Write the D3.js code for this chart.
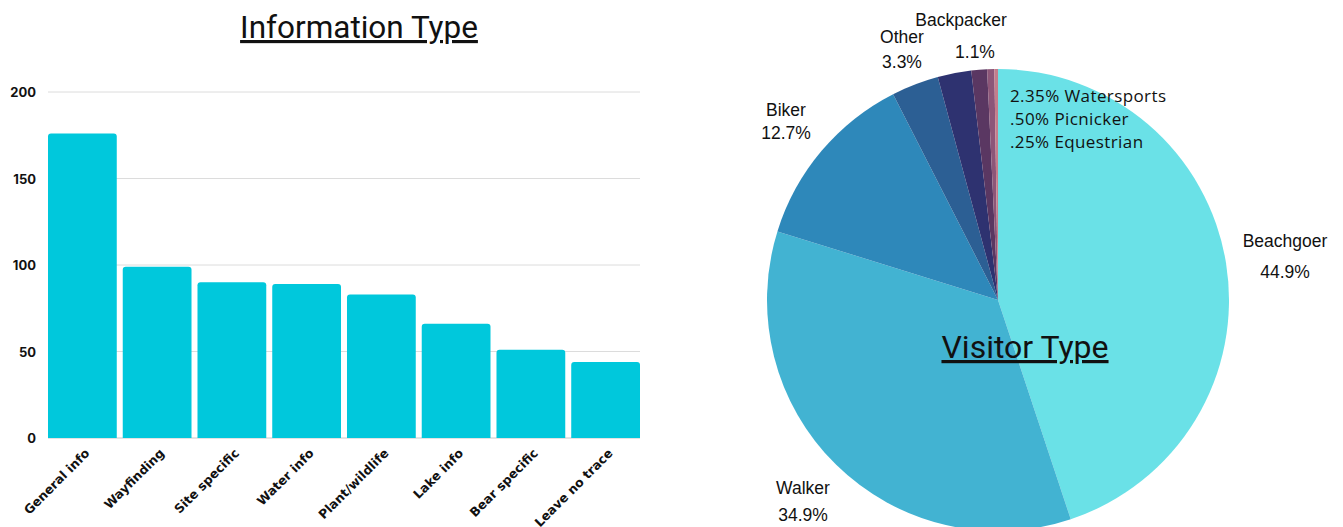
<!DOCTYPE html>
<html>
<head>
<meta charset="utf-8">
<script src="https://cdn.jsdelivr.net/npm/d3@7"></script>
<style>
  body { margin: 0; background: #fff; }
  svg { display: block; }
</style>
</head>
<body>
<div id="chart-area"></div>
<script>
// Bar data
const infoTypes = ['General info', 'Wayfinding', 'Site specific', 'Water info', 'Plant/wildlife', 'Lake info', 'Bear specific', 'Leave no trace']
const infoCounts = [176, 99, 90, 89, 83, 66, 51, 44]
const yTicks = [0, 50, 100, 150, 200]

// Pie data (clockwise from top)
const visitorTypes = ['Beachgoer', 'Walker', 'Biker', 'Other', 'Watersports', 'Backpacker', 'Picnicker', 'Equestrian']
const visitorShares = [44.9, 34.9, 12.7, 3.3, 2.35, 1.1, 0.5, 0.25]
const visitorColors = ['#6ae1e7', '#42b3d2', '#2e88ba', '#2c5f94', '#2e3270', '#5a3762', '#8c5678', '#c47d8c']

const canvas = { width: 1343, height: 527 }

const svg = d3.select('#chart-area')
	.append('svg')
		.attr('width', canvas.width)
		.attr('height', canvas.height)

// ---------- Bar chart ----------
const bar = { left: 48, right: 640, top: 92, bottom: 438 }

let x = d3.scaleBand()
	.domain(infoTypes)
	.range([bar.left, bar.right])
	.paddingInner(0.08)
	.paddingOuter(0)
let y = d3.scaleLinear()
	.domain([0, 200])
	.range([bar.bottom, bar.top])

svg.append('text')
	.attr('x', 359)
	.attr('y', 38)
	.attr('text-anchor', 'middle')
	.attr('font-family', 'Roboto, "Liberation Sans", Arial, sans-serif')
	.attr('font-size', 31.5)
	.attr('fill', '#111')
	.style('text-decoration', 'underline')
	.text('Information Type')

// gridlines
svg.append('g')
	.selectAll('line')
	.data(yTicks)
	.enter().append('line')
		.attr('x1', bar.left)
		.attr('x2', bar.right)
		.attr('y1', d => y(d))
		.attr('y2', d => y(d))
		.attr('stroke', d => d === 0 ? '#c8c8c8' : '#dcdcdc')
		.attr('stroke-width', 1)

// y tick labels
svg.append('g')
	.selectAll('text')
	.data(yTicks)
	.enter().append('text')
		.attr('x', 36)
		.attr('y', d => y(d) + 5)
		.attr('text-anchor', 'end')
		.attr('font-family', 'Inter, "Open Sans", sans-serif')
		.attr('font-weight', 700)
		.attr('font-size', 13)
		.attr('fill', '#111')
		.text(d => d)

// bars with rounded tops
const r = 3
svg.append('g')
	.selectAll('path')
	.data(infoCounts)
	.enter().append('path')
		.attr('fill', '#00c8dc')
		.attr('d', (d, i) => {
			const x0 = x(infoTypes[i]), x1 = x0 + x.bandwidth()
			const y0 = y(d), y1 = y(0)
			return `M${x0},${y1}V${y0 + r}Q${x0},${y0} ${x0 + r},${y0}H${x1 - r}Q${x1},${y0} ${x1},${y0 + r}V${y1}Z`
		})

// x labels
svg.append('g')
	.selectAll('text')
	.data(infoTypes)
	.enter().append('text')
		.attr('transform', d => `translate(${x(d) + x.bandwidth() / 2 + 8}, ${bar.bottom + 16}) rotate(-45)`)
		.attr('text-anchor', 'end')
		.attr('font-family', '"DejaVu Sans", sans-serif')
		.attr('font-weight', 700)
		.attr('font-size', 12.5)
		.attr('fill', '#111')
		.text(d => d)

// ---------- Pie chart ----------
const pieCenter = { x: 998, y: 300 }
const radius = 231

let pie = d3.pie().sort(null).value(d => d)
let arc = d3.arc().innerRadius(0).outerRadius(radius)

let pieG = svg.append('g')
	.attr('transform', `translate(${pieCenter.x}, ${pieCenter.y})`)
pieG.selectAll('path')
	.data(pie(visitorShares))
	.enter().append('path')
		.attr('d', arc)
		.attr('fill', (d, i) => visitorColors[i])

svg.append('text')
	.attr('x', 1025)
	.attr('y', 358)
	.attr('text-anchor', 'middle')
	.attr('font-family', 'Roboto, "Liberation Sans", Arial, sans-serif')
	.attr('font-size', 32)
	.attr('fill', '#111')
	.style('text-decoration', 'underline')
	.text('Visitor Type')

// outside labels: [name, pct text, x, y name, y pct]
const labelPos = [
	['Beachgoer', '44.9%', 1285, 247, 278],
	['Walker', '34.9%', 803, 494, 521],
	['Biker', '12.7%', 786, 116, 139],
	['Other', '3.3%', 902, 43, 68],
	['Backpacker', '1.1%', 961, 26, 58]
]
labelPos.forEach(l => {
	const t = svg.append('g')
		.attr('font-family', '"Liberation Sans", Arial, sans-serif')
		.attr('font-size', 17.5)
		.attr('fill', '#111')
		.attr('text-anchor', 'middle')
	t.append('text').attr('x', l[2]).attr('y', l[3]).text(l[0])
	t.append('text').attr('x', l[2] + (l[0] === 'Backpacker' ? 14 : 0)).attr('y', l[4]).text(l[1])
})

const smallLines = ['2.35% Watersports', '.50% Picnicker', '.25% Equestrian']
svg.append('g')
	.selectAll('text')
	.data(smallLines)
	.enter().append('text')
		.attr('x', 1010)
		.attr('y', (d, i) => 102 + i * 23)
		.attr('font-family', '"Open Sans", sans-serif')
		.attr('font-size', 17)
		.attr('letter-spacing', 0.4)
		.attr('fill', '#111')
		.text(d => d)
</script>
</body>
</html>
